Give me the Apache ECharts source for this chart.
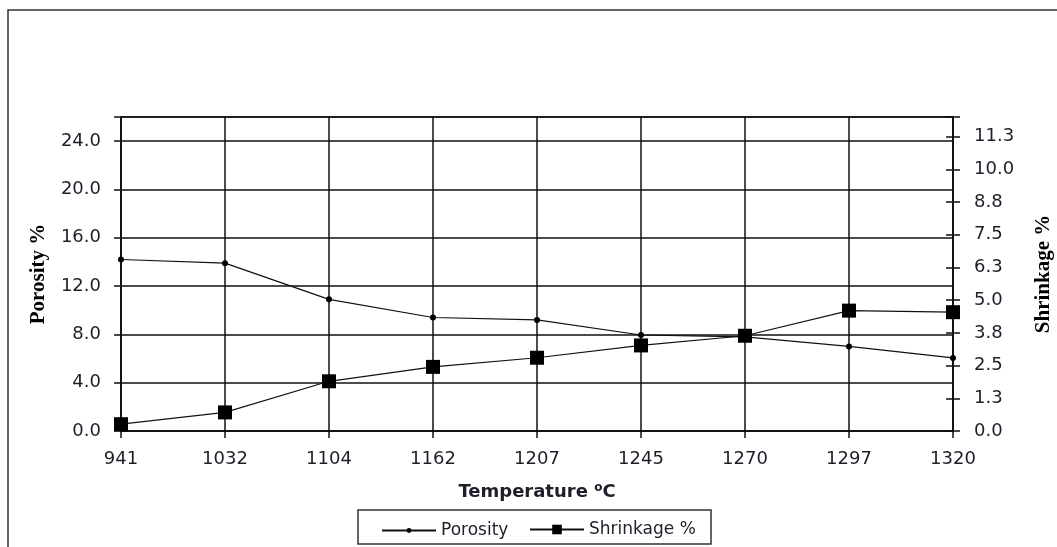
<!DOCTYPE html>
<html>
<head>
<meta charset="utf-8">
<script src="https://cdn.jsdelivr.net/npm/echarts@6/dist/echarts.min.js"></script>
<style>html,body{margin:0;padding:0;background:#fff;}#c{width:1057px;height:547px;}</style>
</head>
<body>
<div id="c"></div>
<script>
const categories = ['941', '1032', '1104', '1162', '1207', '1245', '1270', '1297', '1320'];
const porosity = [14.2, 13.9, 10.9, 9.4, 9.2, 7.95, 7.8, 7.0, 6.05];
const shrinkage = [0.26, 0.71, 1.9, 2.45, 2.8, 3.27, 3.64, 4.6, 4.54];

const txt = '#1e1e2a';
const font = 'DejaVu Sans';
const chart = echarts.init(document.getElementById('c'));
chart.setOption({
  animation: false,
  backgroundColor: '#fff',
  grid: { left: 121, top: 117, right: 104, bottom: 116, outerBoundsMode: 'none', containLabel: false,
    show: true, borderColor: '#111', borderWidth: 1.5 },
  graphic: [
    { type: 'rect', shape: { x: 8, y: 10, width: 1070, height: 560 }, style: { fill: null, stroke: '#333', lineWidth: 1.5 }, silent: true },
    { type: 'rect', shape: { x: 358, y: 510, width: 353, height: 34 }, style: { fill: null, stroke: '#333', lineWidth: 1.5 }, silent: true }
  ],
  legend: [
    { data: ['Porosity'], left: 376, top: 517, itemWidth: 54, itemHeight: 6, itemGap: 10,
      textStyle: { fontFamily: font, fontSize: 17, color: txt } },
    { data: ['Shrinkage %'], left: 524, top: 516, itemWidth: 54, itemHeight: 12, itemGap: 10,
      textStyle: { fontFamily: font, fontSize: 17, color: txt } }
  ],
  xAxis: {
    type: 'category', data: categories, boundaryGap: false,
    name: 'Temperature {s|o}C', nameLocation: 'middle', nameGap: 51,
    nameTextStyle: { fontFamily: font, fontSize: 18, fontWeight: 'bold', color: txt,
      rich: { s: { fontFamily: font, fontSize: 12, fontWeight: 'bold', color: txt, padding: [0, 0, 9, 0] } } },
    axisLine: { lineStyle: { color: '#111', width: 1.5 } },
    axisTick: { show: true, inside: false, length: 7, alignWithLabel: true, lineStyle: { color: '#111', width: 1.5 } },
    axisLabel: { fontFamily: font, fontSize: 18, color: txt, margin: 19 },
    splitLine: { show: true, lineStyle: { color: '#111', width: 1.5 } }
  },
  yAxis: [
    { type: 'value', min: 0, max: 26, interval: 4, position: 'left',
      name: 'Porosity %', nameLocation: 'middle', nameGap: 72, nameRotate: 90,
      nameTextStyle: { fontFamily: 'Liberation Serif', fontSize: 21, fontWeight: 'bold', color: '#000' },
      axisLine: { show: true, lineStyle: { color: '#111', width: 1.5 } },
      axisTick: { show: true, inside: false, length: 7, lineStyle: { color: '#111', width: 1.5 } },
      axisLabel: { fontFamily: font, fontSize: 18, color: txt, margin: 20,
        formatter: v => v > 24.5 ? '' : v.toFixed(1) },
      splitLine: { show: true, lineStyle: { color: '#111', width: 1.5 } } },
    { type: 'value', min: 0, max: 12, interval: 1.25, position: 'right',
      name: 'Shrinkage %', nameLocation: 'middle', nameGap: 80, nameRotate: 90,
      nameTextStyle: { fontFamily: 'Liberation Serif', fontSize: 21, fontWeight: 'bold', color: '#000' },
      axisLine: { show: true, lineStyle: { color: '#111', width: 1.5 } },
      axisTick: { show: true, inside: false, length: 7, lineStyle: { color: '#111', width: 1.5 } },
      axisLabel: { fontFamily: font, fontSize: 18, color: txt, margin: 21,
        formatter: v => v > 11.5 ? '' : v.toFixed(1) },
      splitLine: { show: false } },
    { type: 'value', min: 0, max: 12, interval: 1.25, position: 'right',
      axisLine: { show: false },
      axisTick: { show: true, inside: true, length: 7, lineStyle: { color: '#111', width: 1.5 } },
      axisLabel: { show: false },
      splitLine: { show: false } }
  ],
  series: [
    { name: 'Porosity', type: 'line', yAxisIndex: 0, data: porosity,
      symbol: 'circle', symbolSize: 6,
      lineStyle: { color: '#111', width: 1.2 }, itemStyle: { color: '#000' } },
    { name: 'Shrinkage %', type: 'line', yAxisIndex: 1, data: shrinkage,
      symbol: 'rect', symbolSize: 14,
      lineStyle: { color: '#111', width: 1.2 }, itemStyle: { color: '#000' } }
  ]
});
</script>
</body>
</html>
